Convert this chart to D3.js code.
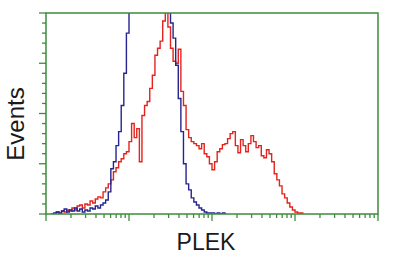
<!DOCTYPE html>
<html>
<head>
<meta charset="utf-8">
<script src="https://cdn.jsdelivr.net/npm/d3@7"></script>
<style>
  body { margin: 0; background: #fff; }
  svg { display: block; font-family: "Liberation Sans", Arial, sans-serif; }
</style>
</head>
<body>
<div id="chart"></div>
<script>
"use strict";

// histogram bins: 32 per decade over 4 decades, bin index -> 10^(i/32)
const binsPerDecade = 32;

// blue trace (counts per bin, starting at bin 0)
const blueCounts = [
  0, 0, 0, 1, 2, 1, 3, 5, 2, 4, 3, 6, 3, 5, 2, 4, 3, 6, 5, 8,
  6, 9, 11, 14, 22, 45, 52, 68, 82, 108, 140, 180, 215, 250, 280, 300, 310, 320, 320, 315,
  310, 300, 290, 280, 260, 245, 230, 215, 190, 175, 148, 115, 82, 50, 30, 24, 16, 12, 9, 6,
  4, 2, 1, 1, 1, 0, 1, 0, 1, 0
];

// red trace (counts per bin, starting at bin 0)
const redCounts = [
  0, 0, 0, 0, 2, 1, 3, 2, 4, 3, 6, 4, 8, 9, 6, 10, 9, 13, 11, 15,
  17, 16, 22, 26, 30, 34, 42, 46, 52, 55, 60, 62, 72, 90, 76, 85, 52, 98, 108, 112,
  125, 138, 158, 165, 172, 192, 201, 186, 165, 152, 150, 164, 122, 108, 84, 76, 72, 70, 68, 65,
  70, 60, 57, 50, 44, 52, 62, 65, 69, 70, 75, 80, 82, 68, 61, 74, 68, 62, 70, 78,
  72, 66, 68, 58, 56, 64, 60, 52, 40, 34, 28, 20, 16, 11, 7, 4, 2, 1, 1, 0
];

const xLabel = "PLEK";
const yLabel = "Events";

const width = 400, height = 265;
const margin = { left: 46, top: 13, right: 22, bottom: 51 };
const axisColor = "#3c8c3c";

const svg = d3.select("#chart").append("svg")
  .attr("width", width)
  .attr("height", height);

const x = d3.scaleLog()
  .domain([1, 1e4])
  .range([margin.left, width - margin.right]);

const y = d3.scaleLinear()
  .domain([0, 200])
  .range([height - margin.bottom, margin.top]);

svg.append("defs").append("clipPath")
  .attr("id", "plotClip")
  .append("rect")
  .attr("x", margin.left)
  .attr("y", margin.top)
  .attr("width", width - margin.left - margin.right)
  .attr("height", height - margin.top - margin.bottom);

// drop the leading / trailing zero bins so the trace only spans where data is
function toPoints(counts) {
  let first = counts.findIndex(c => c > 0) - 1;
  let last = counts.length - 1;
  while (last > 0 && counts[last] === 0 && counts[last - 1] === 0) last--;
  return counts
    .map((c, i) => ({ bin: i, count: c }))
    .filter(d => d.bin >= Math.max(first, 0) && d.bin <= last);
}

const line = d3.line()
  .x(d => x(Math.pow(10, d.bin / binsPerDecade)))
  .y(d => y(d.count))
  .curve(d3.curveStepAfter);

const plot = svg.append("g").attr("clip-path", "url(#plotClip)");

plot.append("path")
  .datum(toPoints(redCounts))
  .attr("fill", "none")
  .attr("stroke", "#e3231c")
  .attr("stroke-width", 1.4)
  .attr("d", line);

plot.append("path")
  .datum(toPoints(blueCounts))
  .attr("fill", "none")
  .attr("stroke", "#25258f")
  .attr("stroke-width", 1.4)
  .attr("d", line);

// frame
svg.append("rect")
  .attr("x", margin.left)
  .attr("y", margin.top)
  .attr("width", width - margin.left - margin.right)
  .attr("height", height - margin.top - margin.bottom)
  .attr("fill", "none")
  .attr("stroke", axisColor)
  .attr("stroke-width", 1.5);

// x axis: log ticks, majors at decades
const xTicks = x.ticks();
const xAxis = svg.append("g")
  .attr("transform", `translate(0,${height - margin.bottom})`);

xAxis.selectAll("line")
  .data(xTicks)
  .enter().append("line")
  .attr("x1", d => x(d))
  .attr("x2", d => x(d))
  .attr("y1", 0)
  .attr("y2", d => Math.abs(Math.log10(d) - Math.round(Math.log10(d))) < 1e-9 ? 7 : 4)
  .attr("stroke", axisColor)
  .attr("stroke-width", 1.3);

// y axis: majors every 50, minors every 10
const yTicks = d3.range(0, 201, 10);
const yAxis = svg.append("g")
  .attr("transform", `translate(${margin.left},0)`);

yAxis.selectAll("line")
  .data(yTicks)
  .enter().append("line")
  .attr("x1", d => d % 50 === 0 ? -7 : -4)
  .attr("x2", 0)
  .attr("y1", d => y(d))
  .attr("y2", d => y(d))
  .attr("stroke", axisColor)
  .attr("stroke-width", 1.3);

// labels
svg.append("text")
  .attr("x", 206)
  .attr("y", 250)
  .attr("text-anchor", "middle")
  .style("font-size", "23px")
  .style("fill", "#1a1a1a")
  .text(xLabel);

svg.append("text")
  .attr("transform", "translate(24,124) rotate(-90)")
  .attr("text-anchor", "middle")
  .style("font-size", "24px")
  .style("fill", "#1a1a1a")
  .text(yLabel);
</script>
</body>
</html>
